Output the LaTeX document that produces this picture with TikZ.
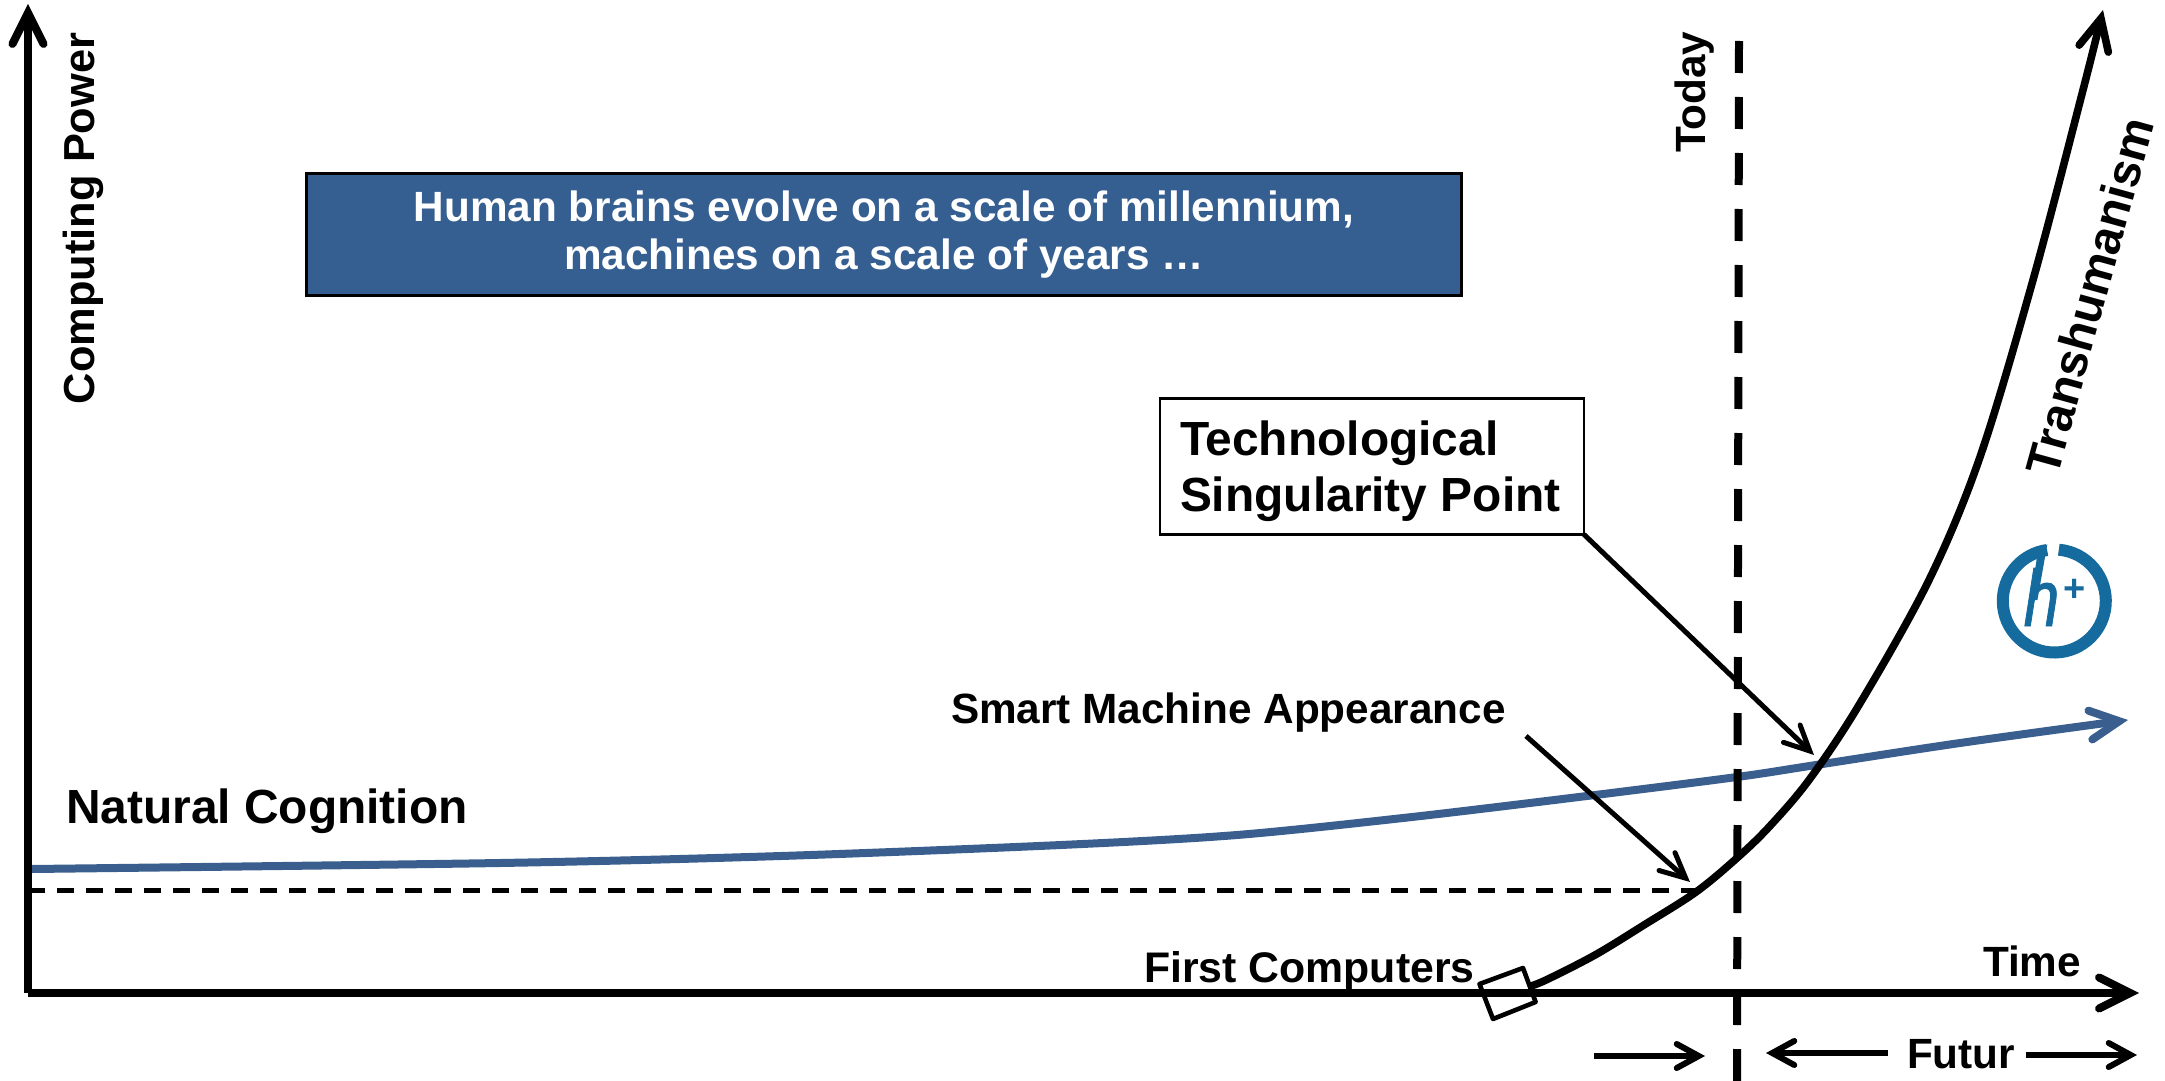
\documentclass[tikz,border=0pt]{standalone}
\usepackage{fontspec}
\setmainfont{Liberation Sans}
\font\logoface="Liberation Sans/I:embolden=1.2" at 40pt
\usetikzlibrary{arrows.meta}
\definecolor{cblue}{HTML}{3A5F8E}
\definecolor{boxblue}{HTML}{365F91}
\definecolor{logoblue}{HTML}{156A9E}
\tikzset{
  x=.5pt,y=-.5pt,
  lbl/.style={font=\bfseries\fontsize{21.15}{25}\selectfont,inner sep=0pt,outer sep=0pt,anchor=base west},
  lblbig/.style={font=\bfseries\fontsize{23.95}{28}\selectfont,inner sep=0pt,outer sep=0pt},
  axisline/.style={line width=4pt,-{Straight Barb[length=15.5pt,width=15.5pt,line cap=round,line join=miter]}},
  curveline/.style={line width=3.8pt,-{Straight Barb[length=15.5pt,width=15pt,line cap=round,line join=miter]}},
  blueline/.style={line width=4pt,cblue,-{Straight Barb[length=14.5pt,width=14.5pt,line cap=round,line join=miter]}},
  callout/.style={line width=2.5pt,-{Straight Barb[length=12.5pt,width=12pt,line cap=round,line join=miter]}},
  span/.style={line width=3pt,-{Straight Barb[length=11pt,width=12pt,line cap=round,line join=miter]}},
  todayline/.style={line width=4pt,dash pattern=on 16pt off 12pt},
  thindash/.style={line width=2.5pt,dash pattern=on 8.5pt off 6pt},
  marker/.style={line width=2.3pt,line join=round},
}
\begin{document}
\begin{tikzpicture}
\useasboundingbox (0,0) rectangle (2165,1081);
% named points
\coordinate (origin) at (28,993);
\coordinate (ytip) at (28,4);
\coordinate (xtip) at (2139,993);
\coordinate (dashL) at (28,890);
\coordinate (dashR) at (1697,890);
\coordinate (todayT) at (1739,41);
\coordinate (todayB) at (1737,1081);
\coordinate (smartFrom) at (1526,736);
\coordinate (smartTip) at (1690,882);
\coordinate (singTip) at (1814,755);
\coordinate (pastFrom) at (1594,1056);
\coordinate (pastTip) at (1705,1056);
\coordinate (futLTip) at (1766,1053);
\coordinate (futRTip) at (2137,1055);

% boxes
\node[draw=black,fill=boxblue,line width=1.4pt,inner sep=0pt,outer sep=0pt,minimum width=577.5pt,minimum height=61pt,anchor=north west,text=white,align=center,font=\bfseries\fontsize{21.15}{25}\selectfont] (banner) at (306.5,173.5) {\raisebox{-4pt}{Human brains evolve on a scale of millennium,}\\\raisebox{-3pt}{machines on a scale of years …}};
\node[draw=black,line width=1.3pt,fill=white,inner sep=0pt,outer sep=0pt,minimum width=212pt,minimum height=68pt,anchor=north west] (techbox) at (1160,398.5) {};
\node[lblbig,anchor=north west,align=left] (techtxt) at (1180,421) {Technological\\Singularity Point};

% blue curve
\draw[blueline] plot[smooth,tension=.5] coordinates {(32,869) (500,863) (781,856) (1061,845) (1237,835) (1412,817) (1587,796) (1737,777) (1816,765) (1960,743) (2128,720)};
% thin dashed
\draw[thindash] (dashL) -- (dashR);
% axes
\draw[axisline] (origin) -- (xtip);
\draw[axisline] (origin) -- (ytip);
% today
\draw[todayline] (todayT) -- (todayB);
% curve
\draw[curveline] plot[smooth,tension=.55] coordinates {(1528,987) (1546,980) (1595,955) (1644,925) (1696,892) (1737,858) (1769,827) (1809,780) (1859,705) (1929,580) (1980,457) (2033,280) (2083,90) (2103,10)};
% marker
\draw[marker] (1479.5,984) -- (1523,968) -- (1535.6,1002) -- (1493,1019) -- cycle;
% callouts
\draw[callout] (techbox.south east) -- (singTip);
\draw[callout] (smartFrom) -- (smartTip);
% bottom arrows
\draw[span] (pastFrom) -- (pastTip);

% labels
\node[lbl,font=\bfseries\fontsize{21.7}{25}\selectfont,rotate=90] (cp) at (94,404) {Computing Power};
\node[lbl,rotate=90] (today) at (1705,153) {Today};
\node[lblbig,anchor=base west,rotate=74.6] (trans) at (2057,478) {Transhumanism};
\node[lblbig,anchor=base west] (natural) at (66,823) {Natural Cognition};
\node[lbl] (smart) at (951,723) {Smart Machine Appearance};
\node[lbl,font=\bfseries\fontsize{21.4}{25}\selectfont] (first) at (1144,982) {First Computers};
\node[lbl] (time) at (1983,976) {Time};
\node[lbl] (futur) at (1907,1068) {Futur};
\draw[span] (1888,1053) -- (futLTip);
\draw[span] (2026,1055) -- (futRTip);

% logo
\draw[logoblue,line width=6pt] (2054.3,601) ++(85:25.75pt) arc[start angle=85,end angle=-262,radius=25.75pt];
\fill[logoblue] (2047.3,544) -- (2037,557) -- (2030.4,600) -- (2037.4,600) -- cycle;
\node[logoblue,inner sep=0pt,outer sep=0pt,xscale=.8,font=\logoface,anchor=base] (logoh) at (2041.5,626) {h};
\node[logoblue,inner sep=0pt,outer sep=0pt,font=\bfseries\fontsize{19}{19}\selectfont] (logop) at (2075,590) {+};
\end{tikzpicture}
\end{document}
